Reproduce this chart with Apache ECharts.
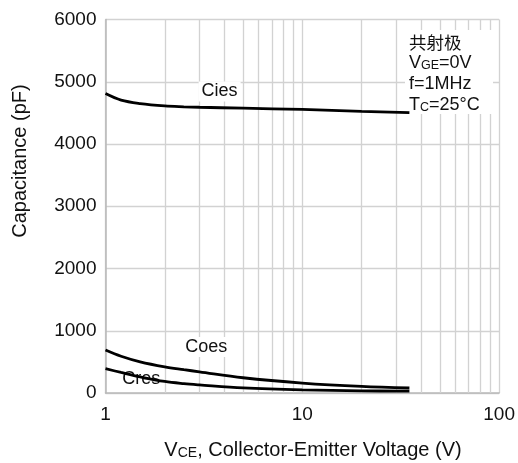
<!DOCTYPE html>
<html>
<head>
<meta charset="utf-8">
<script src="https://cdn.jsdelivr.net/npm/echarts@6/dist/echarts.min.js"></script>
<style>
  html, body { margin: 0; padding: 0; background: #fff; }
  #chart { width: 518px; height: 463px; }
</style>
</head>
<body>
<div id="chart"></div>
<script>
// Collector-emitter voltage sample points (V)
const vce = [1, 1.2, 1.5, 2, 2.5, 3, 5, 10, 20, 35];
// Capacitances (pF)
const cies = [4810, 4705, 4650, 4612, 4598, 4590, 4575, 4555, 4525, 4505];
const coes = [690, 590, 500, 420, 375, 340, 245, 160, 105, 80];
const cres = [390, 330, 260, 185, 150, 130, 82, 50, 35, 30];
// Axis ranges and log-decade grid positions
const yTicks = [0, 1000, 2000, 3000, 4000, 5000, 6000];
const xMinorGrid = [2, 3, 4, 5, 6, 7, 8, 9, 20, 30, 40, 50, 60, 70, 80, 90];
// Curve labels: [text, x, y] in data units
const curveLabels = [['Cies', 3.8, 4845], ['Coes', 3.25, 738], ['Cres', 1.52, 225]];

const FONT = '"Liberation Sans", Arial, sans-serif';
const GRID_COLOR = '#d2d2d2';
const AXIS_COLOR = '#b9b9b9';

const chart = echarts.init(document.getElementById('chart'), null, { renderer: 'canvas' });

function pairs(ys) { return vce.map((x, i) => [x, ys[i]]); }

const curveStyle = { color: '#000', width: 2.8 };

chart.setOption({
  animation: false,
  backgroundColor: '#fff',
  grid: { left: 105.5, right: 17.5, top: 19.5, bottom: 70 },
  xAxis: {
    type: 'log',
    logBase: 10,
    min: 1,
    max: 100,
    axisLine: { show: true, lineStyle: { color: AXIS_COLOR, width: 1.5 } },
    axisTick: { show: false },
    axisLabel: { color: '#111', fontFamily: FONT, fontSize: 19, margin: 12 },
    splitLine: { show: true, lineStyle: { color: GRID_COLOR, width: 1.3 } }
  },
  yAxis: {
    type: 'value',
    min: yTicks[0],
    max: yTicks[yTicks.length - 1],
    interval: 1000,
    axisLine: { show: true, lineStyle: { color: AXIS_COLOR, width: 1.5 } },
    axisTick: { show: false },
    axisLabel: { color: '#111', fontFamily: FONT, fontSize: 19, margin: 9, formatter: v => String(v) },
    splitLine: { show: true, lineStyle: { color: GRID_COLOR, width: 1.3 } }
  },
  series: [
    {
      // minor log grid lines between decades
      type: 'line',
      data: [],
      silent: true,
      z: 1,
      markLine: {
        silent: true,
        symbol: 'none',
        label: { show: false },
        lineStyle: { color: GRID_COLOR, width: 1.3, type: 'solid' },
        data: xMinorGrid.map(v => ({ xAxis: v }))
      }
    },
    { name: 'Cies', type: 'line', data: pairs(cies), smooth: 0.35, showSymbol: false, lineStyle: curveStyle, z: 100 },
    { name: 'Coes', type: 'line', data: pairs(coes), smooth: 0.35, showSymbol: false, lineStyle: curveStyle, z: 100 },
    { name: 'Cres', type: 'line', data: pairs(cres), smooth: 0.35, showSymbol: false, lineStyle: curveStyle, z: 100 }
  ]
});

// Text overlays: curve labels, conditions box and axis titles
const graphics = [];
curveLabels.forEach(([txt, x, y], i) => {
  const p = chart.convertToPixel({ gridIndex: 0 }, [x, y]);
  graphics.push({
    type: 'text',
    x: p[0], y: p[1],
    z: 90,
    style: {
      text: txt,
      font: '18px ' + FONT,
      fill: '#111',
      align: 'center',
      verticalAlign: 'middle',
      backgroundColor: i === 2 ? 'transparent' : '#fff',
      padding: [1, 3]
    }
  });
});

graphics.push({
  type: 'rect',
  shape: { x: 405, y: 30, width: 88, height: 84 },
  style: { fill: '#fff' },
  z: 80
});
graphics.push({
  type: 'text',
  x: 409, y: 30,
  z: 90,
  style: {
    text: '{c|共射极}\n{t|V}{s|GE}{t|=0V}\n{t|f=1MHz}\n{t|T}{s|C}{t|=25°C}',
    fill: '#111',
    rich: {
      c: { fontFamily: '"Noto Sans CJK SC", sans-serif', fontSize: 17.5, lineHeight: 21, verticalAlign: 'bottom', fill: '#111' },
      t: { fontFamily: FONT, fontSize: 18, lineHeight: 21, verticalAlign: 'bottom', fill: '#111' },
      s: { fontFamily: FONT, fontSize: 12.5, lineHeight: 14, verticalAlign: 'bottom', fill: '#111' }
    }
  }
});

// x-axis title
graphics.push({
  type: 'text',
  x: 313, y: 448,
  z: 90,
  style: {
    text: '{t|V}{s|CE}{t|, Collector-Emitter Voltage (V)}',
    align: 'center',
    verticalAlign: 'middle',
    rich: {
      t: { fontFamily: FONT, fontSize: 20, lineHeight: 24, verticalAlign: 'bottom', fill: '#111' },
      s: { fontFamily: FONT, fontSize: 14, lineHeight: 17, verticalAlign: 'bottom', fill: '#111' }
    }
  }
});

// y-axis title
graphics.push({
  type: 'text',
  x: 20, y: 161,
  rotation: Math.PI / 2,
  z: 90,
  style: {
    text: 'Capacitance (pF)',
    font: '20px ' + FONT,
    fill: '#111',
    align: 'center',
    verticalAlign: 'middle'
  }
});

chart.setOption({ graphic: { elements: graphics } });
</script>
</body>
</html>
